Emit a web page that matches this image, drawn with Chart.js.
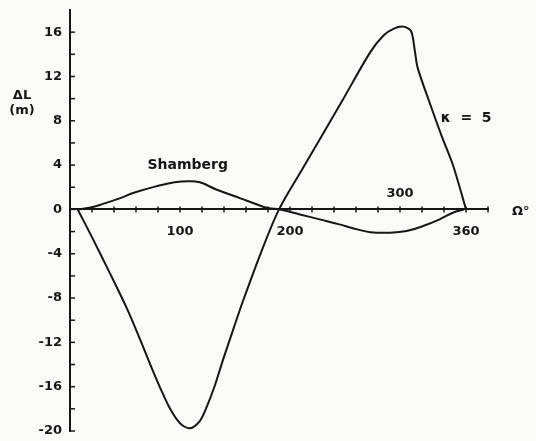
<!DOCTYPE html>
<html>
<head>
<meta charset="utf-8">
<script src="https://cdn.jsdelivr.net/npm/chart.js@4.4.1/dist/chart.umd.min.js"></script>
<style>
  html, body { margin: 0; padding: 0; background: #fafaf8; }
  #wrap { width: 536px; height: 441px; position: relative; }
</style>
</head>
<body>
<div id="wrap"><canvas id="deltaChart"></canvas></div>
<script>
// kappa = 5 curve (degrees, metres)
const kappaX = [7, 21, 36, 52, 64, 73, 82, 91, 100, 109, 118, 124, 132, 139, 148.5, 157.5, 174, 190,
  211, 248, 273, 285, 294, 303, 310, 313.5, 316, 326, 338, 348.5, 360];
const kappaY = [0, -2.7, -5.7, -9.0, -11.8, -14.0, -16.1, -18.0, -19.3, -19.75, -19.1, -17.9, -15.8, -13.6, -10.8, -8.2, -3.8, 0,
  3.6, 9.9, 14.2, 15.7, 16.3, 16.5, 16.1, 14.3, 12.8, 9.9, 6.6, 3.9, 0];

// Shamberg curve
const shambergX = [7, 20, 30, 45, 58, 79, 95, 108, 118, 133, 155, 170, 180, 191,
  209, 227, 245, 261, 273, 291, 306, 321, 336, 348, 358];
const shambergY = [0, 0.2, 0.5, 1.0, 1.5, 2.1, 2.45, 2.55, 2.45, 1.8, 1.0, 0.45, 0.12, 0,
  -0.45, -0.9, -1.35, -1.8, -2.05, -2.1, -1.95, -1.5, -0.9, -0.3, 0];

const yTickLabels = [-20, -16, -12, -8, -4, 0, 4, 8, 12, 16];
const xLabelsBelow = [100, 200, 360];
const xLabelsAbove = [300];

const INK = "#161616";
const FONT = "bold 13px 'DejaVu Sans'";

const toPoints = (xs, ys) => xs.map((x, i) => ({ x, y: ys[i] }));

const noScalePadding = (scale) => {
  scale.paddingTop = 0;
  scale.paddingBottom = 0;
  scale.paddingLeft = 0;
  scale.paddingRight = 0;
};

const axisDecor = {
  id: "axisDecor",
  afterDraw(chart) {
    const { ctx, scales: { x, y } } = chart;
    const x0 = x.getPixelForValue(0);
    const y0 = y.getPixelForValue(0);
    ctx.save();
    ctx.strokeStyle = INK;
    ctx.lineWidth = 1.5;

    // crossing ticks along the horizontal axis
    x.ticks.forEach((t) => {
      if (t.value === 0) return;
      const px = x.getPixelForValue(t.value);
      ctx.beginPath();
      ctx.moveTo(px, y0 - 3);
      ctx.lineTo(px, y0 + 3);
      ctx.stroke();
    });

    // inward ticks on the vertical axis
    y.ticks.forEach((t) => {
      if (t.value >= y.max) return;
      const py = y.getPixelForValue(t.value);
      ctx.beginPath();
      ctx.moveTo(x0, py);
      ctx.lineTo(x0 + 5, py);
      ctx.stroke();
    });

    ctx.fillStyle = INK;
    ctx.font = FONT;
    ctx.textAlign = "center";
    ctx.textBaseline = "middle";
    xLabelsBelow.forEach((v) => ctx.fillText(String(v), x.getPixelForValue(v), y0 + 22));
    xLabelsAbove.forEach((v) => ctx.fillText(String(v), x.getPixelForValue(v), y0 - 16));

    // axis names
    ctx.fillText("\u0394L", 22, y.getPixelForValue(10.25));
    ctx.fillText("(m)", 22, y.getPixelForValue(8.95));
    ctx.textAlign = "left";
    ctx.fillText("\u03A9\u00B0", x.right + 24, y0 + 2);

    // curve names
    ctx.font = "bold 14px 'DejaVu Sans'";
    ctx.textAlign = "center";
    ctx.fillText("Shamberg", x.getPixelForValue(107), y.getPixelForValue(3.95));
    ctx.textAlign = "left";
    ctx.fillText("\u03BA  =  5", x.getPixelForValue(337), y.getPixelForValue(8.2));
    ctx.restore();
  },
};

function initChart() {
  const canvas = document.getElementById("deltaChart");
  new Chart(canvas.getContext("2d"), {
    type: "line",
    data: {
      datasets: [
        {
          label: "kappa = 5",
          data: toPoints(kappaX, kappaY),
          borderColor: INK,
          borderWidth: 2,
          pointRadius: 0,
          tension: 0.3,
        },
        {
          label: "Shamberg",
          data: toPoints(shambergX, shambergY),
          borderColor: INK,
          borderWidth: 2,
          pointRadius: 0,
          tension: 0.4,
        },
      ],
    },
    options: {
      responsive: true,
      maintainAspectRatio: false,
      animation: false,
      layout: { padding: { top: 10, right: 48, bottom: 10, left: 0 } },
      plugins: { legend: { display: false }, tooltip: { enabled: false } },
      scales: {
        x: {
          type: "linear",
          min: 0,
          max: 380,
          position: { y: 0 },
          grid: { display: false, drawTicks: false },
          border: { display: true, color: INK, width: 2 },
          ticks: { display: false, stepSize: 20 },
          afterFit: noScalePadding,
        },
        y: {
          type: "linear",
          min: -20,
          max: 18,
          grid: { display: false, drawTicks: false },
          border: { display: true, color: INK, width: 2 },
          ticks: {
            stepSize: 2,
            padding: 8,
            color: INK,
            font: { family: "'DejaVu Sans'", size: 13, weight: "bold" },
            callback: (v) => (yTickLabels.includes(v) ? String(v) : ""),
          },
          afterFit: (scale) => {
            scale.width = 70;
            noScalePadding(scale);
          },
        },
      },
    },
    plugins: [axisDecor],
  });
}

document.addEventListener("DOMContentLoaded", initChart);
</script>
</body>
</html>
